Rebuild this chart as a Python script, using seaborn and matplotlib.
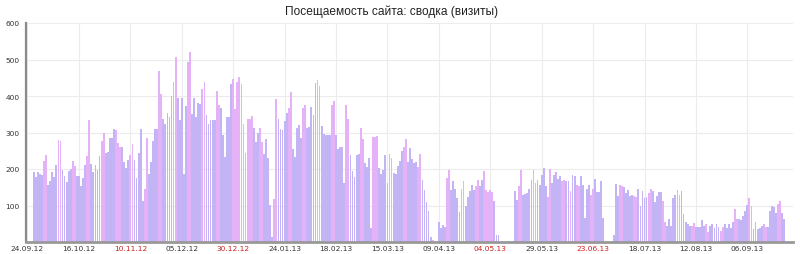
import numpy as np
import pandas as pd
import matplotlib
matplotlib.use("Agg")
import matplotlib.pyplot as plt
import seaborn as sns

title = "Посещаемость сайта: сводка (визиты)"
start_date = "2012-09-24"

# daily visits, starting Monday 24.09.2012
visits = [
    191, 177, 191, 187, 184, 221, 237,
    155, 166, 192, 178, 211, 280, 278,
    198, 182, 165, 194, 201, 223, 209,
    182, 182, 153, 176, 211, 235, 333,
    214, 193, 211, 198, 236, 278, 299,
    244, 246, 284, 286, 310, 306, 271,
    260, 260, 220, 202, 226, 239, 269,
    226, 174, 245, 310, 111, 145, 285,
    185, 220, 276, 310, 310, 468, 405,
    338, 322, 354, 343, 400, 437, 508,
    395, 334, 395, 187, 373, 493, 521,
    350, 394, 342, 382, 377, 418, 438,
    348, 322, 334, 334, 334, 414, 374,
    366, 294, 233, 343, 342, 434, 446,
    365, 438, 452, 432, 322, 245, 337,
    338, 346, 312, 273, 300, 313, 273,
    241, 282, 230, 102, 15, 118, 393,
    337, 310, 308, 331, 353, 367, 411,
    256, 233, 312, 320, 284, 367, 374,
    311, 315, 369, 347, 436, 445, 427,
    319, 296, 292, 292, 292, 374, 385,
    292, 255, 260, 260, 163, 374, 337,
    239, 194, 178, 239, 241, 312, 282,
    216, 205, 230, 38, 289, 289, 291,
    203, 187, 198, 238, 162, 241, 230,
    189, 187, 209, 223, 250, 260, 282,
    218, 258, 227, 216, 218, 205, 242,
    169, 143, 109, 84, 14, 5, 0,
    0, 54, 37, 47, 41, 175, 196,
    142, 166, 146, 120, 81, 145, 166,
    100, 123, 139, 157, 143, 153, 171,
    154, 169, 194, 143, 136, 143, 136,
    111, 20, 20, 0, 0, 0, 0,
    0, 0, 0, 141, 116, 153, 198,
    130, 132, 133, 145, 171, 198, 163,
    171, 157, 184, 203, 154, 122, 200,
    162, 184, 192, 173, 180, 168, 171,
    168, 167, 141, 184, 182, 155, 154,
    182, 157, 66, 145, 157, 130, 146,
    173, 136, 136, 168, 66, 0, 0,
    0, 0, 20, 159, 127, 157, 153,
    150, 133, 143, 127, 130, 125, 123,
    146, 100, 140, 121, 123, 134, 145,
    140, 109, 127, 136, 137, 111, 56,
    43, 64, 43, 121, 130, 142, 130,
    139, 78, 55, 48, 45, 45, 52,
    41, 41, 40, 61, 45, 49, 27,
    43, 49, 37, 49, 40, 29, 40,
    49, 37, 50, 37, 54, 90, 64,
    63, 59, 72, 84, 102, 121, 100,
    36, 54, 36, 38, 43, 50, 41,
    41, 84, 98, 96, 79, 105, 111,
    79, 63,
]

holidays = ["2012-11-05", "2012-12-31", "2013-01-01", "2013-01-02", "2013-01-03",
            "2013-01-04", "2013-01-07", "2013-01-08", "2013-03-08",
            "2013-05-01", "2013-05-02", "2013-05-03", "2013-05-09", "2013-05-10",
            "2013-06-12"]
working_days = ["2012-12-29"]

tick_labels = ["24.09.12", "16.10.12", "10.11.12", "05.12.12", "30.12.12",
               "24.01.13", "18.02.13", "15.03.13", "09.04.13", "04.05.13",
               "29.05.13", "23.06.13", "18.07.13", "12.08.13", "06.09.13"]

color_work = "#c3b4f6"
color_off = "#e6b2f7"

dates = pd.date_range(start_date, periods=len(visits), freq="D")
hol = pd.to_datetime(holidays)
work = pd.to_datetime(working_days)
is_off = ((dates.dayofweek >= 5) | dates.isin(hol)) & ~dates.isin(work)
df = pd.DataFrame({
    "day": np.arange(len(visits)),
    "visits": visits,
    "kind": np.where(is_off, "off", "work"),
})

sns.set_style("white")
plt.rcParams["font.family"] = ["DejaVu Sans"]

W, H = 800, 255
fig = plt.figure(figsize=(W / 100, H / 100), dpi=100)
ax = fig.add_axes([26 / W, 12 / H, 767 / W, 219 / H])

sns.barplot(data=df, x="day", y="visits", hue="kind",
            palette={"work": color_work, "off": color_off},
            native_scale=True, dodge=False, width=0.88, legend=False,
            saturation=1, linewidth=0, ax=ax)

x0 = -3.76
ax.set_xlim(x0, 369.2)
ax.set_ylim(0, 600)

tick_dates = pd.to_datetime(tick_labels, format="%d.%m.%y")
tick_pos = [(d - dates[0]).days for d in tick_dates]
tick_pos[0] = x0 + 0.3
ax.set_xticks(tick_pos)
ax.set_xticklabels(tick_labels)
for lab, d in zip(ax.get_xticklabels(), tick_dates):
    off = (d.dayofweek >= 5) or (d in hol)
    lab.set_color("#cc1f1f" if off else "#333333")

ax.set_yticks([100, 200, 300, 400, 500, 600])
ax.set_yticklabels(["100", "200", "300", "400", "500", "600"])

ax.tick_params(axis="both", length=0, labelsize=5.3)
ax.tick_params(axis="y", pad=4.5, labelcolor="#333333")
ax.tick_params(axis="x", pad=2.5)

ax.set_axisbelow(True)
ax.grid(True, color="#ececec", linewidth=0.8)
ax.set_xlabel("")
ax.set_ylabel("")

for s in ["top", "right"]:
    ax.spines[s].set_visible(False)
ax.spines["left"].set_color("#8a8a8a")
ax.spines["left"].set_linewidth(1.6)
ax.spines["bottom"].set_color("#999999")
ax.spines["bottom"].set_linewidth(2.0)

fig.text(392 / W, 1 - 12 / H, title, ha="center", va="center",
         fontsize=8.6, family="Liberation Sans", color="#222222")

fig.savefig("out.png", dpi=100)
